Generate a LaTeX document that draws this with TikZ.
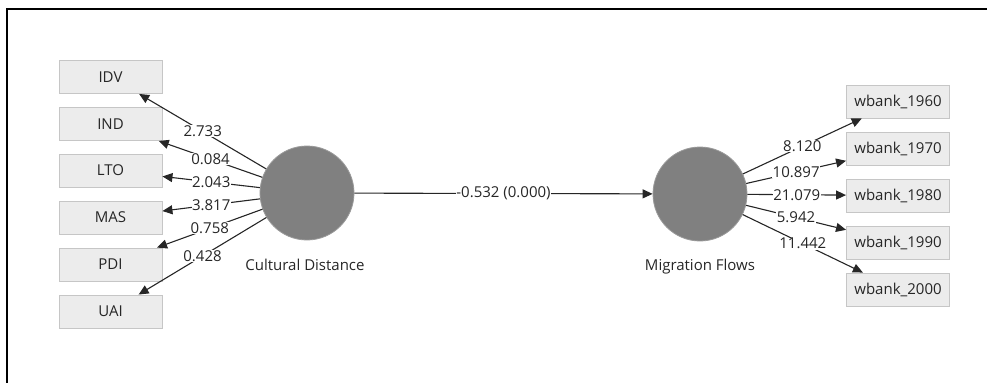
\documentclass[tikz,border=0pt]{standalone}
\usepackage{fontspec}
\setmainfont{Open Sans}
\usetikzlibrary{arrows.meta}
\definecolor{boxfill}{HTML}{ECECEC}
\definecolor{boxline}{HTML}{C6C6C6}
\definecolor{circfill}{HTML}{808080}
\definecolor{circline}{HTML}{9A9A9A}
\tikzset{
  ind/.style={draw=boxline, fill=boxfill, line width=0.9pt, minimum width=103pt, minimum height=33pt, inner sep=0pt, font=\fontsize{15}{17}\selectfont, text=black!85},
  lat/.style={circle, draw=circline, fill=circfill, line width=0.8pt, minimum size=94pt, inner sep=0pt},
  lbl/.style={font=\fontsize{15}{17}\selectfont, text=black!85},
  con/.style={draw=black!85, line width=1.1pt, -{Triangle[length=10pt,width=9pt]}},
  val/.style={midway, fill=white, inner sep=0.5pt, font=\fontsize{15}{17}\selectfont, text=black!85}
}
\begin{document}
\begin{tikzpicture}[x=1pt,y=-1pt]
\useasboundingbox (0,0) rectangle (987,383);
\draw[line width=2pt] (987,9) -- (7,9) -- (7,383);
% indicators left
\node[ind] (idv) at (110.5,77) {IDV};
\node[ind] (ind) at (110.5,124) {IND};
\node[ind] (lto) at (110.5,170.5) {LTO};
\node[ind] (mas) at (110.5,217.5) {MAS};
\node[ind] (pdi) at (110.5,264.5) {PDI};
\node[ind] (uai) at (110.5,311.5) {UAI};
% indicators right
\node[ind] (w60) at (898,101.5) {wbank\_1960};
\node[ind] (w70) at (898,149) {wbank\_1970};
\node[ind] (w80) at (898,195.5) {wbank\_1980};
\node[ind] (w90) at (898,242.5) {wbank\_1990};
\node[ind] (w00) at (898,289.5) {wbank\_2000};
% latent
\node[lat] (cd) at (307,193) {};
\node[lat] (mf) at (700,194) {};
\node[lbl] (cdl) at (305,265) {Cultural Distance};
\node[lbl] (mfl) at (700,267) {Migration Flows};
% connectors
\draw[con] (cd) -- (idv) node[val] {2.733};
\draw[con] (cd) -- (ind) node[val] {0.084};
\draw[con] (cd) -- (lto) node[val] {2.043};
\draw[con] (cd) -- (mas) node[val] {3.817};
\draw[con] (cd) -- (pdi) node[val] {0.758};
\draw[con] (cd) -- (uai) node[val] {0.428};
\draw[con] (cd) -- (mf) node[val] {-0.532 (0.000)};
\draw[con] (mf) -- (w60) node[val] {8.120};
\draw[con] (mf) -- (w70) node[val] {10.897};
\draw[con] (mf) -- (w80) node[val] {21.079};
\draw[con] (mf) -- (w90) node[val] {5.942};
\draw[con] (mf) -- (w00) node[val] {11.442};
\end{tikzpicture}
\end{document}
